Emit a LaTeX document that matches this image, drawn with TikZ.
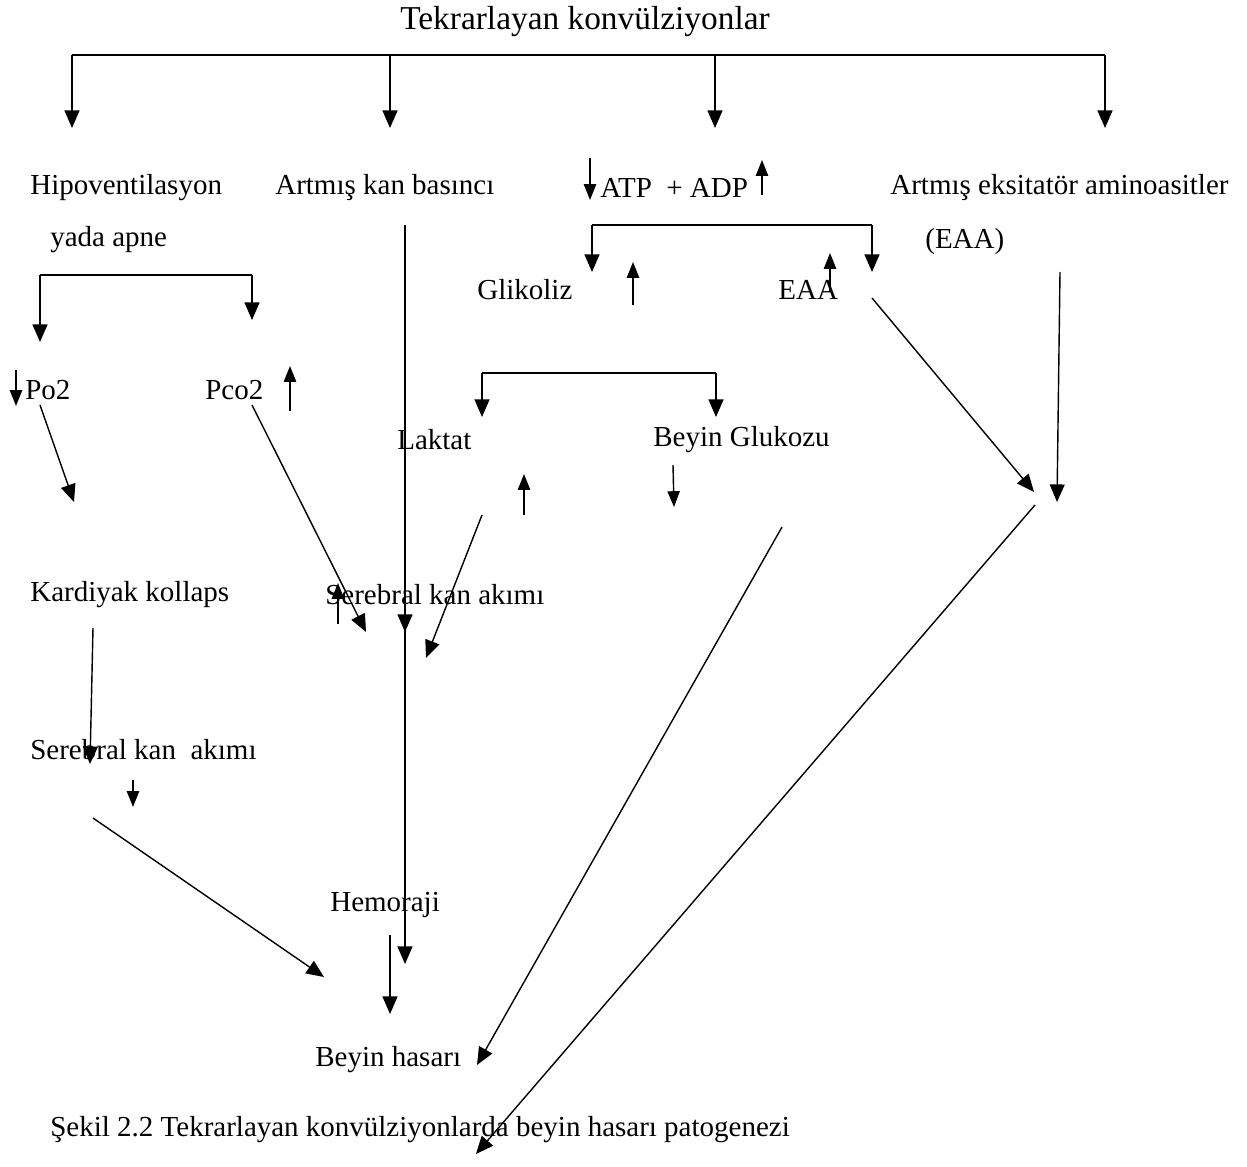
\documentclass[tikz,border=0pt]{standalone}
\usepackage{fontspec}
\setmainfont{Liberation Serif}
\usetikzlibrary{arrows.meta}

\begin{document}
\begin{tikzpicture}[x=0.02cm, y=-0.02cm,
    every node/.style={inner sep=0pt, anchor=west, font=\fontsize{16.5}{19}\selectfont},
    arr/.style={-{Triangle[length=10pt,width=8.5pt]}, line width=0.8pt},
    smallarr/.style={-{Triangle[length=9pt,width=7pt]}, line width=0.8pt}]
    \useasboundingbox (0,0) rectangle (1247,1166);

    % baslik ve ust kol
    \node[anchor=center, font=\fontsize{19}{22}\selectfont] (baslik) at (585,22) {Tekrarlayan konvülziyonlar};
    \draw[line width=1pt] (72,55) -- (1105,55);
    \foreach \x in {72,390,715,1105}
        \draw[arr] (\x,55) -- (\x,128);

    % ikinci sira
    \node (hipo) at (30,188) {Hipoventilasyon};
    \node (apne) at (50,240) {yada apne};
    \node (basinc) at (275,188) {Artmış kan basıncı};
    \node (atp) at (600,188) {ATP \ + ADP};
    \draw[smallarr] (590,158) -- (590,200);
    \draw[smallarr] (762,195) -- (762,160);
    \node (eksit) at (890,188) {Artmış eksitatör aminoasitler};
    \node (eaa1) at (925,242) {(EAA)};

    % ATP kolu
    \draw[line width=1pt] (592,225) -- (872,225);
    \draw[arr] (592,225) -- (592,272);
    \draw[arr] (872,225) -- (872,272);
    \node (glikoliz) at (477,290) {Glikoliz};
    \draw[smallarr] (633,305) -- (633,262);
    \node (eaa2) at (778,290) {EAA};
    \draw[smallarr] (830,292) -- (830,253);

    % hipoventilasyon kolu
    \draw[line width=1pt] (40,275) -- (252,275);
    \draw[arr] (40,275) -- (40,342);
    \draw[arr] (252,275) -- (252,320);
    \node (po) at (25,390) {Po2};
    \draw[smallarr] (16,370) -- (16,406);
    \node (pco) at (205,390) {Pco2};
    \draw[smallarr] (290,411) -- (290,366);
    \draw[arr] (40,405) -- (74,502);
    \draw[arr] (252,405) -- (366,632);

    % kan basinci hatti
    \draw[arr] (405,225) -- (405,632);
    \draw[arr] (405,625) -- (405,964);

    % laktat ve glukoz
    \draw[line width=1pt] (482,373) -- (716,373);
    \draw[arr] (482,373) -- (482,417);
    \draw[arr] (716,373) -- (716,417);
    \node (laktat) at (397,440) {Laktat};
    \node (glukoz) at (653,440) {Beyin Glukozu};
    \draw[smallarr] (524,515) -- (524,474);
    \draw[smallarr] (673,465) -- (674,507);
    \draw[arr] (482,515) -- (426,658);

    % EAA dallari
    \draw[arr] (872,298) -- (1034,492);
    \draw[arr] (1060,272) -- (1057,502);
    \draw[arr] (1035,505) -- (476,1154);

    % kardiyak kollaps
    \node (kollaps) at (30,595) {Kardiyak kollaps};
    \draw[arr] (93,628) -- (90,764);
    \node (akim1) at (30,750) {Serebral kan \ akımı};
    \draw[smallarr] (133,780) -- (133,807);
    \draw[arr] (93,818) -- (324,977);

    % serebral kan akimi (orta)
    \node (akim2) at (325,595) {Serebral kan akımı};
    \draw[smallarr] (338,624) -- (338,583);

    % hemoraji ve beyin hasari
    \node (hemoraji) at (330,905) {Hemoraji};
    \draw[arr] (390,935) -- (390,1014);
    \draw[arr] (782,527) -- (477,1065);
    \node (hasar) at (315,1060) {Beyin hasarı};

    \node (sekil) at (50,1130) {Şekil 2.2 Tekrarlayan konvülziyonlarda beyin hasarı patogenezi};
\end{tikzpicture}
\end{document}
